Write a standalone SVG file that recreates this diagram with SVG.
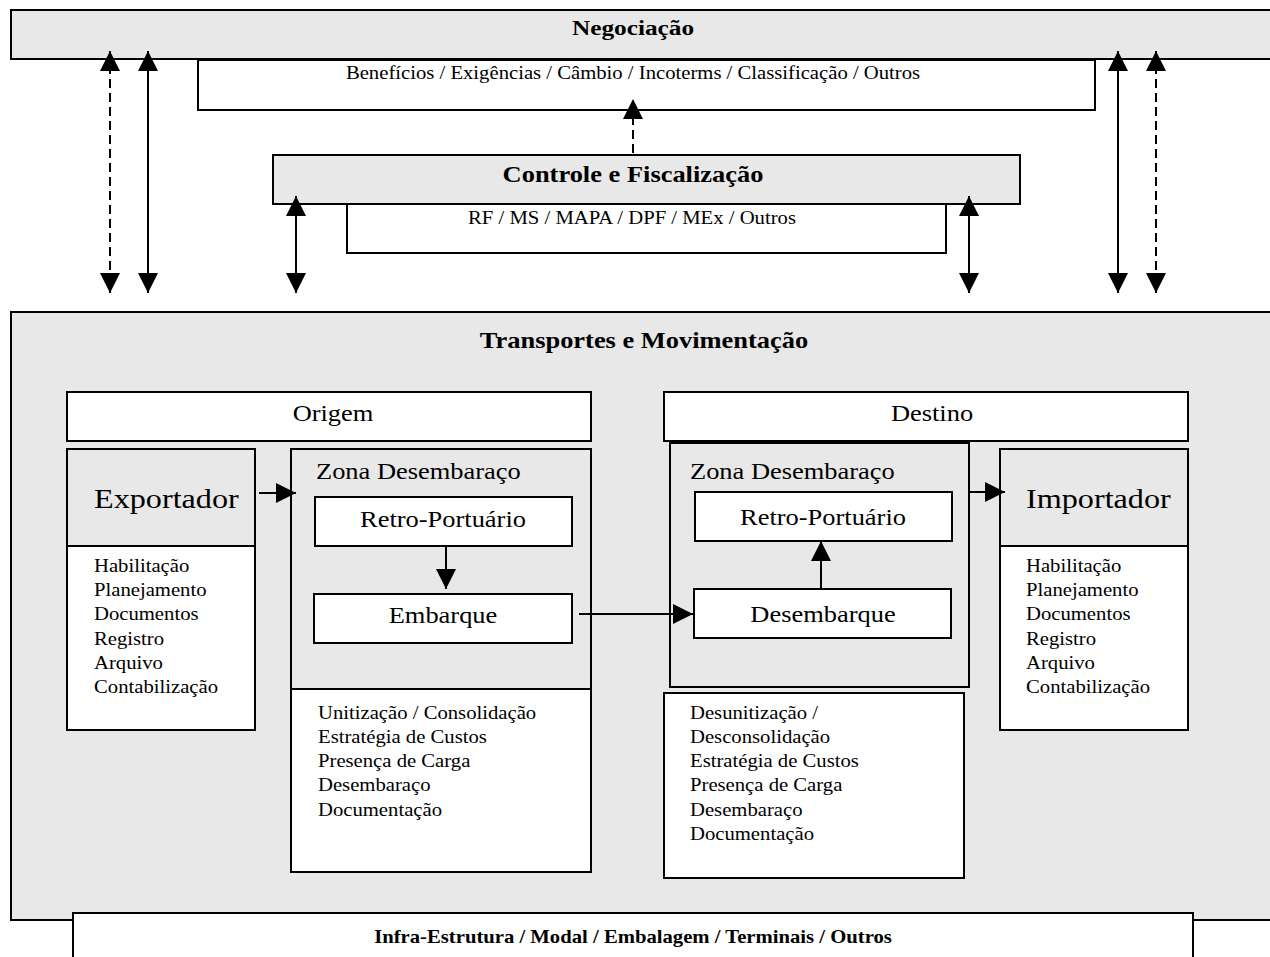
<svg xmlns="http://www.w3.org/2000/svg" width="1270" height="957" viewBox="0 0 1270 957">
<style>
text{font-family:"Liberation Serif","Times New Roman",serif;fill:#000}
.b{font-weight:bold}
.box{stroke:#000;stroke-width:2}
.g{fill:#e8e8e8}
.w{fill:#fff}
.c{text-anchor:middle}
.ln{stroke:#000;stroke-width:2;fill:none}
.d{stroke-dasharray:9 5}
</style>
<defs>
<marker id="ah" markerUnits="userSpaceOnUse" markerWidth="20" markerHeight="20" refX="20" refY="10" orient="auto-start-reverse" viewBox="0 0 20 20">
<path d="M0,0 L20,10 L0,20 z" fill="#000"/>
</marker>
</defs>
<rect width="1270" height="957" fill="#fff"/>

<g id="negociacao">
<rect class="box g" x="11" y="10" width="1275" height="49"/>
<text class="b c" font-size="22" transform="matrix(1.15 0 0 1 633 0)" x="0" y="35">Negociação</text>
</g>
<g id="beneficios">
<rect class="box w" x="198" y="60" width="897" height="50"/>
<text class="c" font-size="18" transform="matrix(1.15 0 0 1 633 0)" x="0" y="79">Benefícios / Exigências / Câmbio / Incoterms / Classificação / Outros</text>
</g>
<g id="controle">
<rect class="box g" x="273" y="155" width="747" height="49"/>
<text class="b c" font-size="23" transform="matrix(1.15 0 0 1 633 0)" x="0" y="182">Controle e Fiscalização</text>
</g>
<g id="orgaos">
<rect class="box w" x="347" y="204" width="599" height="49"/>
<text class="c" font-size="18" transform="matrix(1.15 0 0 1 632 0)" x="0" y="224">RF / MS / MAPA / DPF / MEx / Outros</text>
</g>

<g id="transportes">
<rect class="box g" x="11" y="312" width="1275" height="608"/>
<text class="b c" font-size="23" transform="matrix(1.15 0 0 1 644 0)" x="0" y="348">Transportes e Movimentação</text>
</g>
<g id="origem">
<rect class="box w" x="67" y="392" width="524" height="49"/>
<text class="c" font-size="23" transform="matrix(1.15 0 0 1 333 0)" x="0" y="421">Origem</text>
</g>
<g id="destino">
<rect class="box w" x="664" y="392" width="524" height="49"/>
<text class="c" font-size="23" transform="matrix(1.15 0 0 1 932 0)" x="0" y="421">Destino</text>
</g>
<g id="exportador">
<rect class="box g" x="67" y="449" width="188" height="97"/>
<text font-size="28" transform="matrix(1.15 0 0 1 94 0)" x="0" y="508">Exportador</text>
</g>
<g id="exportador-tarefas">
<rect class="box w" x="67" y="546" width="188" height="184"/>
<text font-size="18" transform="matrix(1.15 0 0 1 94 0)"><tspan x="0" y="572">Habilitação</tspan><tspan x="0" y="596">Planejamento</tspan><tspan x="0" y="620">Documentos</tspan><tspan x="0" y="645">Registro</tspan><tspan x="0" y="669">Arquivo</tspan><tspan x="0" y="693">Contabilização</tspan></text>
</g>
<g id="zona-origem">
<rect class="box g" x="291" y="449" width="300" height="240"/>
<text font-size="23" transform="matrix(1.15 0 0 1 316 0)" x="0" y="479">Zona Desembaraço</text>
</g>
<g id="retro-origem">
<rect class="box w" x="315" y="497" width="257" height="49"/>
<text class="c" font-size="23" transform="matrix(1.15 0 0 1 443 0)" x="0" y="527">Retro-Portuário</text>
</g>
<g id="embarque">
<rect class="box w" x="314" y="594" width="258" height="49"/>
<text class="c" font-size="23" transform="matrix(1.15 0 0 1 443 0)" x="0" y="623">Embarque</text>
</g>
<g id="origem-tarefas">
<rect class="box w" x="291" y="689" width="300" height="183"/>
<text font-size="18" transform="matrix(1.15 0 0 1 318 0)"><tspan x="0" y="719">Unitização / Consolidação</tspan><tspan x="0" y="743">Estratégia de Custos</tspan><tspan x="0" y="767">Presença de Carga</tspan><tspan x="0" y="791">Desembaraço</tspan><tspan x="0" y="816">Documentação</tspan></text>
</g>
<g id="zona-destino">
<rect class="box g" x="670" y="443" width="299" height="244"/>
<text font-size="23" transform="matrix(1.15 0 0 1 690 0)" x="0" y="479">Zona Desembaraço</text>
</g>
<g id="retro-destino">
<rect class="box w" x="695" y="492" width="257" height="49"/>
<text class="c" font-size="23" transform="matrix(1.15 0 0 1 823 0)" x="0" y="525">Retro-Portuário</text>
</g>
<g id="desembarque">
<rect class="box w" x="694" y="589" width="257" height="49"/>
<text class="c" font-size="23" transform="matrix(1.15 0 0 1 823 0)" x="0" y="622">Desembarque</text>
</g>
<g id="destino-tarefas">
<rect class="box w" x="664" y="693" width="300" height="185"/>
<text font-size="18" transform="matrix(1.15 0 0 1 690 0)"><tspan x="0" y="719">Desunitização /</tspan><tspan x="0" y="743">Desconsolidação</tspan><tspan x="0" y="767">Estratégia de Custos</tspan><tspan x="0" y="791">Presença de Carga</tspan><tspan x="0" y="816">Desembaraço</tspan><tspan x="0" y="840">Documentação</tspan></text>
</g>
<g id="importador">
<rect class="box g" x="1000" y="449" width="188" height="97"/>
<text font-size="28" transform="matrix(1.15 0 0 1 1026 0)" x="0" y="508">Importador</text>
</g>
<g id="importador-tarefas">
<rect class="box w" x="1000" y="546" width="188" height="184"/>
<text font-size="18" transform="matrix(1.15 0 0 1 1026 0)"><tspan x="0" y="572">Habilitação</tspan><tspan x="0" y="596">Planejamento</tspan><tspan x="0" y="620">Documentos</tspan><tspan x="0" y="645">Registro</tspan><tspan x="0" y="669">Arquivo</tspan><tspan x="0" y="693">Contabilização</tspan></text>
</g>
<g id="infra">
<rect class="box w" x="73" y="913" width="1120" height="60"/>
<text class="b c" font-size="18" transform="matrix(1.15 0 0 1 633 0)" x="0" y="943">Infra-Estrutura / Modal / Embalagem / Terminais / Outros</text>
</g>

<g id="connectors">
<line class="ln d" x1="110" y1="51" x2="110" y2="293" marker-start="url(#ah)" marker-end="url(#ah)"/>
<line class="ln" x1="148" y1="51" x2="148" y2="293" marker-start="url(#ah)" marker-end="url(#ah)"/>
<line class="ln" x1="1118" y1="51" x2="1118" y2="293" marker-start="url(#ah)" marker-end="url(#ah)"/>
<line class="ln d" x1="1156" y1="51" x2="1156" y2="293" marker-start="url(#ah)" marker-end="url(#ah)"/>
<line class="ln" x1="296" y1="196" x2="296" y2="293" marker-start="url(#ah)" marker-end="url(#ah)"/>
<line class="ln" x1="969" y1="196" x2="969" y2="293" marker-start="url(#ah)" marker-end="url(#ah)"/>
<line class="ln d" x1="633" y1="153" x2="633" y2="99" marker-end="url(#ah)"/>
<line class="ln" x1="259" y1="493" x2="296" y2="493" marker-end="url(#ah)"/>
<line class="ln" x1="446" y1="546" x2="446" y2="589" marker-end="url(#ah)"/>
<line class="ln" x1="579" y1="614" x2="693" y2="614" marker-end="url(#ah)"/>
<line class="ln" x1="821" y1="589" x2="821" y2="541" marker-end="url(#ah)"/>
<line class="ln" x1="968" y1="492" x2="1005" y2="492" marker-end="url(#ah)"/>
</g>
</svg>
